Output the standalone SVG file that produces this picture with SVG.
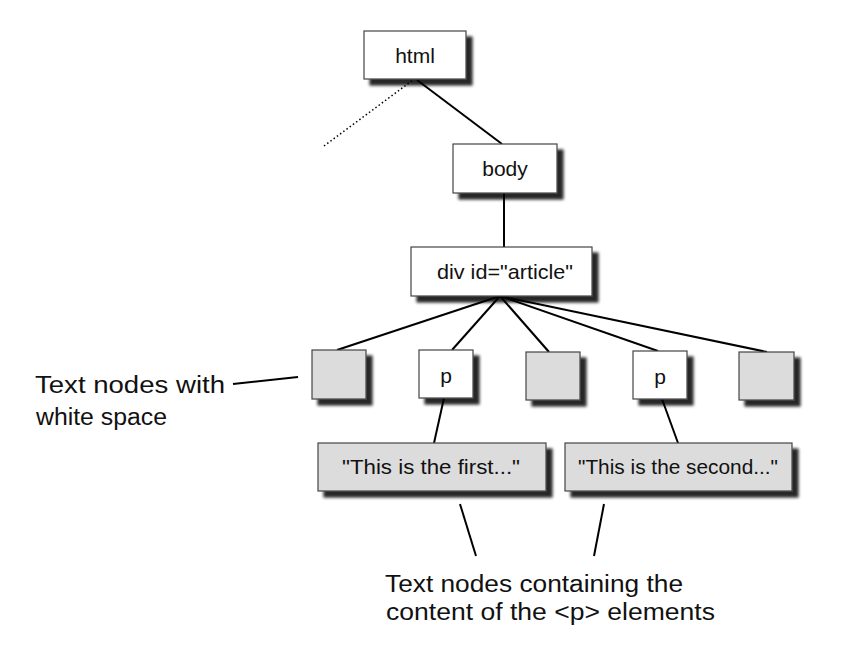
<svg xmlns="http://www.w3.org/2000/svg" width="841" height="659" viewBox="0 0 841 659">
<defs>
<filter id="sh" x="-20%" y="-20%" width="150%" height="160%">
<feGaussianBlur in="SourceAlpha" stdDeviation="1.8"/>
<feOffset dx="6" dy="6" result="b"/>
<feComponentTransfer><feFuncA type="linear" slope="0.85"/></feComponentTransfer>
<feMerge><feMergeNode/><feMergeNode in="SourceGraphic"/></feMerge>
</filter>
</defs>
<style>
.box{fill:#fff;stroke:#444;stroke-width:1.2;filter:url(#sh)}
.gbox{fill:#dcdcdc;stroke:#444;stroke-width:1.2;filter:url(#sh)}
.lbl{font-family:"Liberation Sans","DejaVu Sans",sans-serif;font-size:21px;fill:#111;text-anchor:middle}
.hand{font-family:"Liberation Sans","DejaVu Sans",sans-serif;font-size:23px;fill:#111}
.ln{stroke:#000;stroke-width:2;fill:none}
</style>
<rect width="841" height="659" fill="#fff"/>
<g id="connectors">
<line class="ln" x1="324" y1="146" x2="413" y2="80" stroke-dasharray="1.5,2.5" style="stroke-width:1.5"/>
<line class="ln" x1="417" y1="80" x2="502" y2="144"/>
<line class="ln" x1="504" y1="193" x2="504" y2="247"/>
<line class="ln" x1="500" y1="296" x2="337" y2="350"/>
<line class="ln" x1="500" y1="296" x2="452" y2="350"/>
<line class="ln" x1="500" y1="296" x2="549" y2="352"/>
<line class="ln" x1="500" y1="296" x2="658" y2="351"/>
<line class="ln" x1="500" y1="296" x2="767" y2="352"/>
<line class="ln" x1="444" y1="398" x2="434" y2="443"/>
<line class="ln" x1="662" y1="399" x2="678" y2="443"/>
<line class="ln" x1="233" y1="384" x2="298" y2="377"/>
<line class="ln" x1="460" y1="504" x2="476" y2="556"/>
<line class="ln" x1="604" y1="504" x2="594" y2="556"/>
</g>
<g id="html"><rect class="box" x="364" y="31" width="102" height="48"/><text class="lbl" x="415" y="63">html</text></g>
<g id="body"><rect class="box" x="453" y="144" width="104" height="49"/><text class="lbl" x="505" y="176">body</text></g>
<g id="div"><rect class="box" x="411" y="247" width="181" height="49"/><text class="lbl" x="505" y="279" textLength="136" lengthAdjust="spacingAndGlyphs">div id="article"</text></g>
<g id="ws1"><rect class="gbox" x="312" y="350" width="54" height="49"/></g>
<g id="p1"><rect class="box" x="419" y="350" width="54" height="48"/><text class="lbl" x="446" y="383">p</text></g>
<g id="ws2"><rect class="gbox" x="526" y="352" width="54" height="48"/></g>
<g id="p2"><rect class="box" x="633" y="351" width="54" height="48"/><text class="lbl" x="660" y="384">p</text></g>
<g id="ws3"><rect class="gbox" x="739" y="352" width="55" height="48"/></g>
<g id="t1"><rect class="gbox" x="318" y="443" width="228" height="48"/><text class="lbl" x="431" y="474" textLength="178" lengthAdjust="spacingAndGlyphs">"This is the first..."</text></g>
<g id="t2"><rect class="gbox" x="565" y="443" width="227" height="48"/><text class="lbl" x="678" y="474" textLength="200" lengthAdjust="spacingAndGlyphs">"This is the second..."</text></g>
<g id="note1"><text class="hand" x="35" y="393" textLength="190" lengthAdjust="spacingAndGlyphs">Text nodes with</text><text class="hand" x="36" y="425" textLength="131" lengthAdjust="spacingAndGlyphs">white space</text></g>
<g id="note2"><text class="hand" x="385" y="592" textLength="298" lengthAdjust="spacingAndGlyphs">Text nodes containing the</text><text class="hand" x="386" y="620" textLength="329" lengthAdjust="spacingAndGlyphs">content of the &lt;p&gt; elements</text></g>
</svg>
